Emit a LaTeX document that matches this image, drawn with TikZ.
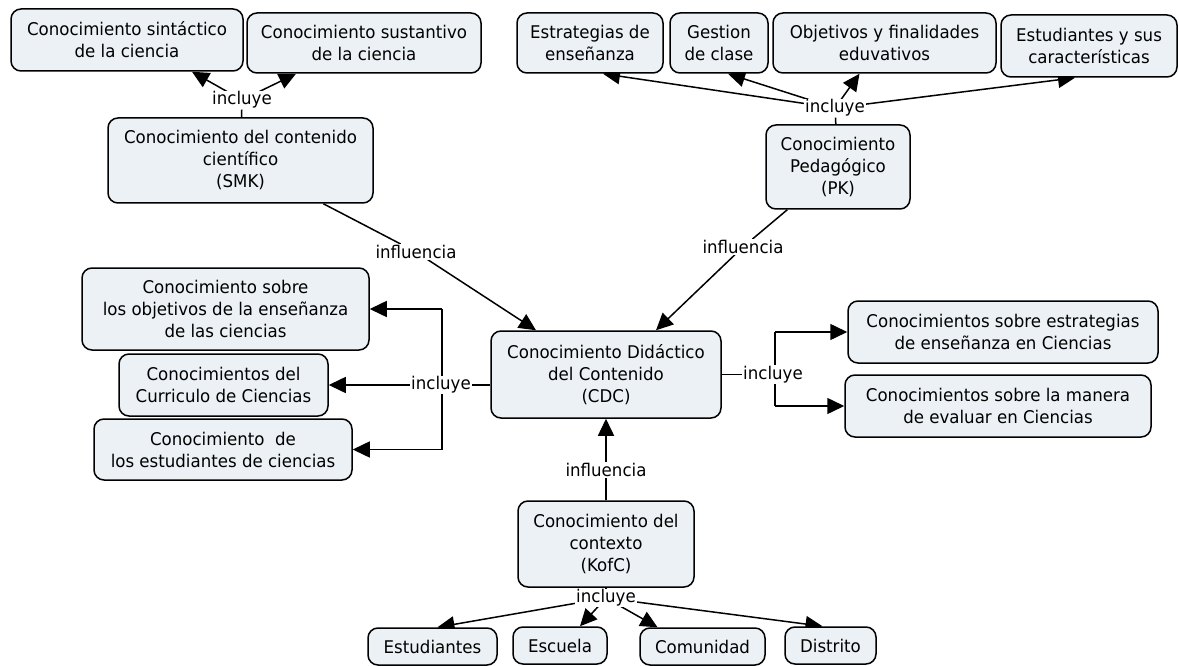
\documentclass[tikz,border=0pt]{standalone}
\usepackage{fontspec}
\setmainfont{DejaVu Sans}[FakeStretch=0.95]
\usetikzlibrary{arrows.meta,calc}
\definecolor{boxfill}{RGB}{235,241,244}
\pgfdeclarelayer{background}
\pgfsetlayers{background,main}
\tikzset{
  txt/.style={font=\fontsize{17.5}{22}\selectfont},
  cbox/.style={txt, draw=black, fill=boxfill, line width=1.5pt, rounded corners=10pt,
    inner sep=0pt, align=center},
  lbl/.style={txt, fill=white, inner sep=1pt},
  conn/.style={line width=1.5pt, draw=black},
  arr/.style={conn, -{Triangle[length=17pt,width=16pt]}}
}
\begin{document}
\begin{tikzpicture}[x=1pt,y=-1pt]
\useasboundingbox (0,0) rectangle (1179,666);
% top left
\node[cbox, minimum width=232pt, minimum height=62pt] (sint) at (127,40) {Conocimiento sintáctico\\de la ciencia};
\node[cbox, minimum width=234pt, minimum height=60pt] (sust) at (364,43) {Conocimiento sustantivo\\de la ciencia};
\node[cbox, minimum width=265pt, minimum height=85pt] (smk) at (240.5,160.5) {Conocimiento del contenido\\científico\\(SMK)};
\node[lbl] (inc1) at (242,100) {incluye};
% top right
\node[cbox, minimum width=146pt, minimum height=60pt] (estr) at (590,43) {Estrategias de\\enseñanza};
\node[cbox, minimum width=98pt, minimum height=60pt] (gest) at (719,43) {Gestion\\de clase};
\node[cbox, minimum width=223pt, minimum height=60pt] (objf) at (884.5,43) {Objetivos y finalidades\\eduvativos};
\node[cbox, minimum width=176pt, minimum height=62pt] (estu) at (1089,46) {Estudiantes y sus\\características};
\node[cbox, minimum width=144pt, minimum height=84pt] (pk) at (838,167) {Conocimiento\\Pedagógico\\(PK)};
\node[lbl] (inc2) at (835,108) {incluye};
% influence labels
\node[lbl] (infl1) at (416,252) {influencia};
\node[lbl] (infl2) at (743,247) {influencia};
% centre
\node[cbox, minimum width=230pt, minimum height=87pt] (cdc) at (606,374.5) {Conocimiento Didáctico\\del Contenido\\(CDC)};
% left group
\node[cbox, minimum width=287pt, minimum height=82pt] (objens) at (225.5,309) {Conocimiento sobre\\los objetivos de la enseñanza\\de las ciencias};
\node[cbox, minimum width=209pt, minimum height=62pt] (curr) at (223.5,385) {Conocimientos del\\Curriculo de Ciencias};
\node[cbox, minimum width=258pt, minimum height=61pt] (estc) at (223,449.5) {Conocimiento\ \ de\\los estudiantes de ciencias};
\node[lbl] (inc3) at (441,385) {incluye};
\coordinate (v1) at (442,309);
\coordinate (v2) at (442,449.5);
% right group
\node[cbox, minimum width=310pt, minimum height=62pt] (estrC) at (1003,332) {Conocimientos sobre estrategias\\de enseñanza en Ciencias};
\node[cbox, minimum width=306pt, minimum height=62pt] (eval) at (998,406) {Conocimientos sobre la manera\\de evaluar en Ciencias};
\node[lbl] (inc4) at (773,374.5) {incluye};
\coordinate (r1) at (775,332);
\coordinate (r2) at (775,406);
% bottom
\node[lbl] (infl3) at (606,470) {influencia};
\node[cbox, minimum width=176pt, minimum height=86pt] (kofc) at (606,544) {Conocimiento del\\contexto\\(KofC)};
\node[lbl] (inc5) at (606,598) {incluye};
\node[cbox, minimum width=129pt, minimum height=37pt] (est) at (432.5,646.5) {Estudiantes};
\node[cbox, minimum width=94pt, minimum height=37pt] (esc) at (560,645.5) {Escuela};
\node[cbox, minimum width=125pt, minimum height=37pt] (com) at (702.5,646.5) {Comunidad};
\node[cbox, minimum width=91pt, minimum height=37pt] (dis) at (830.5,645.5) {Distrito};
\begin{pgfonlayer}{background}
% top left
\draw[conn] (smk) -- (inc1);
\draw[arr] (inc1.center) -- ([xshift=65pt]sint.south);
\draw[arr] (inc1.center) -- ([xshift=-68pt]sust.south);
% top right
\draw[conn] (pk) -- (inc2);
\draw[arr] (inc2.center) -- ([xshift=13pt]estr.south);
\draw[arr] (inc2.center) -- ([xshift=9pt]gest.south);
\draw[arr] (inc2.center) -- ([xshift=-25pt]objf.south);
\draw[arr] (inc2.center) -- ([xshift=-14pt]estu.south);
% influences
\draw[conn] (smk) -- (infl1);
\draw[arr] (infl1.center) -- ([xshift=-70pt]cdc.north);
\draw[conn] (pk) -- (infl2);
\draw[arr] (infl2.center) -- ([xshift=50pt]cdc.north);
\draw[conn] (kofc) -- (infl3);
\draw[arr] (infl3.center) -- (cdc.south);
% left group
\draw[conn] (inc3.center) -- (inc3.center -| cdc.west);
\draw[conn] (v1) -- (v2);
\draw[arr] (v1) -- (objens.east);
\draw[arr] (inc3.center) -- (curr.east);
\draw[arr] (v2) -- (estc.east);
% right group
\draw[conn] (cdc.east) -- (inc4.center);
\draw[conn] (r1) -- (r2);
\draw[arr] (r1) -- (estrC.west);
\draw[arr] (r2) -- (eval.west);
% bottom
\draw[conn] (kofc) -- (inc5);
\draw[arr] (inc5.center) -- ([xshift=5pt]est.north);
\draw[arr] (inc5.center) -- ([xshift=20pt]esc.north);
\draw[arr] (inc5.center) -- ([xshift=-45pt]com.north);
\draw[arr] (inc5.center) -- ([xshift=-8pt]dis.north);
\end{pgfonlayer}
\end{tikzpicture}
\end{document}
